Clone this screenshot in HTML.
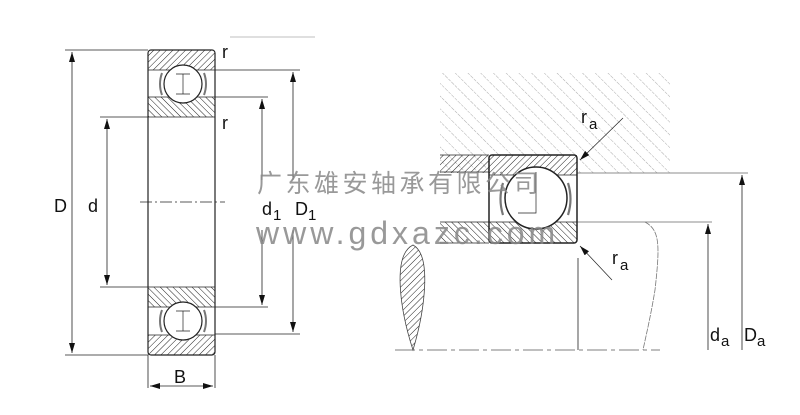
<!DOCTYPE html>
<html><head><meta charset="utf-8"><style>
html,body{margin:0;padding:0;background:#fff;}
svg{display:block;}
text{font-family:"Liberation Sans","DejaVu Sans",sans-serif;}
</style></head><body>
<svg width="800" height="415" viewBox="0 0 800 415" xmlns="http://www.w3.org/2000/svg">
<defs>
<pattern id="h1" patternUnits="userSpaceOnUse" width="4.5" height="4.5" patternTransform="rotate(45)"><line x1="0" y1="0" x2="0" y2="4.5" stroke="#222" stroke-width="1"/></pattern>
<pattern id="h2" patternUnits="userSpaceOnUse" width="4.5" height="4.5" patternTransform="rotate(-45)"><line x1="0" y1="0" x2="0" y2="4.5" stroke="#222" stroke-width="1"/></pattern>
<pattern id="hl" patternUnits="userSpaceOnUse" width="9" height="9" patternTransform="rotate(-45)"><line x1="0" y1="0" x2="0" y2="9" stroke="#888" stroke-width="0.7" stroke-dasharray="3 1"/></pattern>
<marker id="ar" markerWidth="10" markerHeight="6" refX="10" refY="3" orient="auto" markerUnits="userSpaceOnUse"><path d="M0,0 L10,3 L0,6z" fill="#111"/></marker>
</defs>
<g stroke="#222" fill="none" stroke-width="0.8">
<line x1="65" y1="50" x2="148" y2="50"/><line x1="65" y1="355" x2="148" y2="355"/>
<line x1="72" y1="202" x2="72" y2="52" marker-end="url(#ar)"/><line x1="72" y1="202" x2="72" y2="353" marker-end="url(#ar)"/>
<line x1="100" y1="117" x2="148" y2="117"/><line x1="100" y1="287" x2="148" y2="287"/>
<line x1="107" y1="202" x2="107" y2="119" marker-end="url(#ar)"/><line x1="107" y1="202" x2="107" y2="285" marker-end="url(#ar)"/>
<line x1="215" y1="97" x2="268" y2="97"/><line x1="215" y1="307" x2="268" y2="307"/>
<line x1="262" y1="180" x2="262" y2="99" marker-end="url(#ar)"/><line x1="262" y1="230" x2="262" y2="305" marker-end="url(#ar)"/>
<line x1="215" y1="70" x2="300" y2="70"/><line x1="215" y1="334" x2="300" y2="334"/>
<line x1="293" y1="180" x2="293" y2="72" marker-end="url(#ar)"/><line x1="293" y1="230" x2="293" y2="332" marker-end="url(#ar)"/>
<line x1="230" y1="37" x2="315" y2="37" stroke="#aaa"/>
<line x1="148" y1="355" x2="148" y2="388"/><line x1="215" y1="355" x2="215" y2="388"/>
<line x1="181" y1="386" x2="150" y2="386" marker-end="url(#ar)"/><line x1="181" y1="386" x2="213" y2="386" marker-end="url(#ar)"/>
<line x1="140" y1="202" x2="225" y2="202" stroke-dasharray="12 3 2 3"/>
<rect x="148" y="50" width="67" height="20" fill="url(#h1)" stroke="none"/>
<rect x="148" y="97" width="67" height="20" fill="url(#h2)" stroke="none"/>
<rect x="148" y="287" width="67" height="20" fill="url(#h2)" stroke="none"/>
<rect x="148" y="335" width="67" height="20" fill="url(#h1)" stroke="none"/>
<rect x="148" y="50" width="67" height="305" rx="3" stroke-width="1.2"/>
<line x1="148" y1="70" x2="215" y2="70"/><line x1="148" y1="97" x2="215" y2="97"/><line x1="148" y1="117" x2="215" y2="117"/>
<line x1="148" y1="287" x2="215" y2="287"/><line x1="148" y1="307" x2="215" y2="307"/><line x1="148" y1="335" x2="215" y2="335"/>
<path d="M162,73 q-4,11 0,22 M204,73 q4,11 0,22 M162,310 q-4,11 0,22 M204,310 q4,11 0,22" stroke-width="2" stroke="#777"/>
<circle cx="183" cy="84" r="19" fill="#fff" stroke-width="1.2"/>
<circle cx="183" cy="321" r="19" fill="#fff" stroke-width="1.2"/>
<path d="M176,74 h14 M183,74 v20 M176,94 h14 M176,311 h14 M183,311 v20 M176,331 h14" stroke-width="0.7"/>
<!-- right -->
<rect x="440" y="73" width="230" height="100" fill="url(#hl)" stroke="none"/>
<rect x="489" y="155" width="90" height="20" fill="#fff" stroke="none"/>
<rect x="440" y="155" width="49" height="18" fill="url(#h1)" stroke="none"/>
<line x1="440" y1="155" x2="489" y2="155"/><line x1="440" y1="172" x2="489" y2="172"/>
<line x1="577" y1="173" x2="748" y2="173" stroke="#666"/>
<rect x="440" y="222" width="49" height="21" fill="url(#h2)" stroke="none"/>
<line x1="440" y1="222" x2="489" y2="222"/><line x1="440" y1="243" x2="489" y2="243"/>
<line x1="577" y1="222" x2="712" y2="222" stroke="#666"/>
<rect x="489" y="155" width="88" height="20" fill="url(#h1)" stroke="none"/>
<rect x="489" y="222" width="88" height="21" fill="url(#h2)" stroke="none"/>
<rect x="489" y="155" width="88" height="88" rx="3" stroke-width="1.5"/>
<line x1="489" y1="175" x2="577" y2="175"/><line x1="489" y1="222" x2="577" y2="222"/>
<path d="M503,183 q-5,16 0,32 M568,183 q5,16 0,32" stroke-width="2.2" stroke="#777"/>
<circle cx="536" cy="198" r="31" fill="#fff" stroke-width="1.5"/>
<path d="M536,172 v41 h-18" stroke-width="0.7"/>
<line x1="623" y1="118" x2="580" y2="160" stroke-width="0.7" marker-end="url(#ar)"/>
<line x1="612" y1="280" x2="580" y2="246" stroke-width="0.7" marker-end="url(#ar)"/>
<line x1="578" y1="258" x2="578" y2="350"/>
<line x1="395" y1="350" x2="660" y2="350" stroke-dasharray="20 4 4 4" stroke="#555"/>
<path d="M413,245 C392,255 400,310 413,350 C425,310 432,255 413,245z" fill="url(#h1)" stroke="#444"/>
<path d="M645,222 C660,230 660,245 655,290 C650,320 645,340 643,350" stroke="#777" stroke-dasharray="6 1"/>
<line x1="708" y1="350" x2="708" y2="224" marker-end="url(#ar)"/>
<line x1="742" y1="350" x2="742" y2="175" marker-end="url(#ar)"/>
</g>
<g fill="#111" font-size="18">
<text x="54" y="212">D</text><text x="88" y="212">d</text>
<text x="262" y="215">d</text><text x="273" y="220" font-size="15">1</text>
<text x="295" y="215">D</text><text x="308" y="220" font-size="15">1</text>
<text x="174" y="383">B</text>
<text x="222" y="58">r</text><text x="222" y="129">r</text>
<text x="581" y="123">r</text><text x="589" y="129" font-size="15">a</text>
<text x="612" y="264">r</text><text x="620" y="270" font-size="15">a</text>
<text x="710" y="341">d</text><text x="721" y="346" font-size="15">a</text>
<text x="744" y="341">D</text><text x="757" y="346" font-size="15">a</text>
</g>
<text x="257" y="192" font-size="25" fill="#888" letter-spacing="3.5" font-family="'Noto Serif CJK SC','Noto Sans CJK SC',sans-serif" opacity="0.85">广东雄安轴承有限公司</text>
<text x="256" y="244" font-size="32" fill="#888" letter-spacing="4" opacity="0.85">www.gdxazc.com</text>
</svg>
</body></html>
